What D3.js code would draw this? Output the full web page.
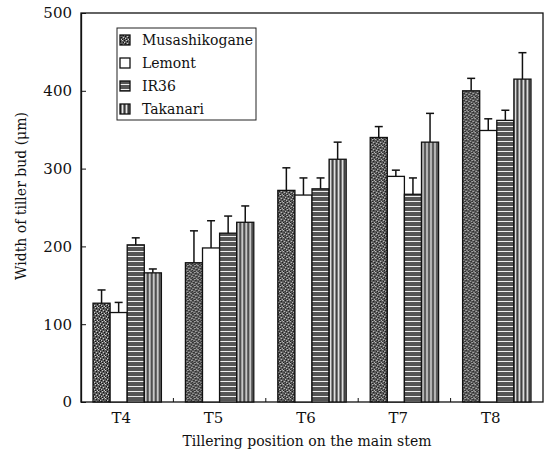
<!DOCTYPE html>
<meta charset="utf-8">
<style>
body { margin: 0; background: #fff; overflow: hidden; }
svg { display: block; }
text { font-family: "DejaVu Serif", serif; fill: #111; }
g.axis path, g.axis line { stroke: #111; }
</style>
<body>
<div id="chart"></div>
<script src="https://cdn.jsdelivr.net/npm/d3@7"></script>
<script>
// tillering positions and cultivars
var positions = ["T4", "T5", "T6", "T7", "T8"];
var cultivars = ["Musashikogane", "Lemont", "IR36", "Takanari"];

// mean width of tiller bud (um)
var musashikogane = [127, 179, 272, 340, 400];
var lemont        = [115, 198, 266, 290, 349];
var ir36          = [202, 217, 274, 267, 362];
var takanari      = [166, 231, 312, 334, 415];

// upper error bars (SD)
var musashikoganeErr = [17, 41, 29, 14, 16];
var lemontErr        = [13, 35, 22, 8, 15];
var ir36Err          = [9, 22, 14, 21, 13];
var takanariErr      = [5, 21, 22, 37, 34];

var yTicks = [0, 100, 200, 300, 400, 500];

var means = [musashikogane, lemont, ir36, takanari];
var errs = [musashikoganeErr, lemontErr, ir36Err, takanariErr];

var data = [];
positions.forEach(function (p, i) {
  cultivars.forEach(function (c, j) {
    data.push({pos: p, cv: c, k: j, v: means[j][i], e: errs[j][i]});
  });
});

var margin = {top: 13, right: 5, bottom: 57, left: 81};
var outerWidth = 548, outerHeight = 459;
var innerWidth = outerWidth - margin.left - margin.right;
var innerHeight = outerHeight - margin.top - margin.bottom;

var svg = d3.select("#chart").append("svg")
    .attr("width", outerWidth)
    .attr("height", outerHeight);

// fill patterns imitating the printed textures
var defs = svg.append("defs");

var stip = defs.append("pattern").attr("id", "p0")
    .attr("patternUnits", "userSpaceOnUse").attr("width", 7).attr("height", 7);
stip.append("rect").attr("width", 7).attr("height", 7).attr("fill", "#5e5e5e");
var darkDots = [[0,0],[3,1],[6,2],[1,3],[4,4],[2,6],[5,6],[0,5]];
var lightDots = [[2,0],[5,0],[0,2],[3,3],[6,4],[1,5],[4,6]];
darkDots.forEach(function (d) {
  stip.append("rect").attr("x", d[0]).attr("y", d[1]).attr("width", 1).attr("height", 1).attr("fill", "#111");
});
lightDots.forEach(function (d) {
  stip.append("rect").attr("x", d[0]).attr("y", d[1]).attr("width", 1).attr("height", 1).attr("fill", "#cfcfcf");
});

var hor = defs.append("pattern").attr("id", "p2")
    .attr("patternUnits", "userSpaceOnUse").attr("width", 6).attr("height", 5);
hor.append("rect").attr("width", 6).attr("height", 5).attr("fill", "#555");
hor.append("rect").attr("y", 3).attr("width", 6).attr("height", 1).attr("fill", "#eee");

var ver = defs.append("pattern").attr("id", "p3")
    .attr("patternUnits", "userSpaceOnUse").attr("width", 4).attr("height", 6);
ver.append("rect").attr("width", 4).attr("height", 6).attr("fill", "#808080");
ver.append("rect").attr("x", 1).attr("width", 1).attr("height", 6).attr("fill", "#e8e8e8");
ver.append("rect").attr("x", 3).attr("width", 1).attr("height", 6).attr("fill", "#3a3a3a");

var fills = ["url(#p0)", "#fff", "url(#p2)", "url(#p3)"];

// scales
var x0 = d3.scaleBand().domain(positions).range([0, innerWidth])
    .paddingInner(0.26).paddingOuter(0.13);
var x1 = d3.scaleBand().domain(cultivars).range([0, x0.bandwidth()]);
var y = d3.scaleLinear().domain([0, 500]).range([innerHeight, 0]);
var step = x0.step();

var g = svg.append("g")
    .attr("transform", "translate(" + margin.left + "," + margin.top + ")");

// frame
g.append("rect").attr("width", innerWidth).attr("height", innerHeight)
    .attr("fill", "none").attr("stroke", "#111").attr("stroke-width", 1.3);

// y axis, ticks pointing inward
var yAxis = g.append("g").attr("class", "axis")
    .call(d3.axisLeft(y).tickValues(yTicks).tickSizeInner(-5).tickSizeOuter(0).tickPadding(9));
yAxis.select(".domain").attr("stroke-width", 1.3);
yAxis.selectAll("text").attr("font-size", 15).attr("font-family", "DejaVu Serif");

// x axis: labels at categories, small inward ticks at group boundaries
var xAxis = g.append("g").attr("class", "axis")
    .attr("transform", "translate(0," + innerHeight + ")")
    .call(d3.axisBottom(x0).tickSize(0).tickPadding(10));
xAxis.select(".domain").remove();
xAxis.selectAll("text").attr("font-size", 15).attr("font-family", "DejaVu Serif")
    .attr("dx", -6);

g.append("g").selectAll("line")
    .data(positions.slice(1))
    .enter().append("line")
    .attr("x1", function (d) { return x0(d) - x0.paddingInner() * step / 2; })
    .attr("x2", function (d) { return x0(d) - x0.paddingInner() * step / 2; })
    .attr("y1", innerHeight).attr("y2", innerHeight - 4)
    .attr("stroke", "#111").attr("stroke-width", 1);

// bars
var bars = g.append("g").selectAll("g")
    .data(data).enter().append("g")
    .attr("transform", function (d) { return "translate(" + (x0(d.pos) + x1(d.cv)) + ",0)"; });

var bw = x1.bandwidth();

// error bars (upper only)
bars.append("line")
    .attr("x1", bw / 2).attr("x2", bw / 2)
    .attr("y1", function (d) { return y(d.v); })
    .attr("y2", function (d) { return y(d.v + d.e); })
    .attr("stroke", "#111").attr("stroke-width", 1.5);
bars.append("line")
    .attr("x1", bw / 2 - 4).attr("x2", bw / 2 + 4)
    .attr("y1", function (d) { return y(d.v + d.e); })
    .attr("y2", function (d) { return y(d.v + d.e); })
    .attr("stroke", "#111").attr("stroke-width", 1.5);

bars.append("rect")
    .attr("x", 0).attr("width", bw)
    .attr("y", function (d) { return y(d.v); })
    .attr("height", function (d) { return innerHeight - y(d.v); })
    .attr("fill", function (d) { return fills[d.k]; })
    .attr("stroke", "#111").attr("stroke-width", 1.3);

// legend
var legend = g.append("g").attr("transform", "translate(36,15)");
legend.append("rect").attr("width", 139).attr("height", 92)
    .attr("fill", "#fff").attr("stroke", "#222").attr("stroke-width", 1);
var items = legend.selectAll("g.item").data(cultivars).enter().append("g")
    .attr("class", "item")
    .attr("transform", function (d, i) { return "translate(0," + (12 + i * 23) + ")"; });
items.append("rect").attr("x", 3).attr("y", -5).attr("width", 10).attr("height", 10)
    .attr("fill", function (d, i) { return fills[i]; })
    .attr("stroke", "#111").attr("stroke-width", 1.3);
items.append("text").attr("x", 25).attr("y", 5)
    .attr("font-size", 14)
    .text(function (d) { return d; });

// axis titles
svg.append("text")
    .attr("x", margin.left + innerWidth / 2 - 5)
    .attr("y", 446)
    .attr("text-anchor", "middle")
    .attr("font-size", 14)
    .text("Tillering position on the main stem");

svg.append("text")
    .attr("transform", "translate(26,196) rotate(-90)")
    .attr("text-anchor", "middle")
    .attr("font-size", 14)
    .text("Width of tiller bud (\u03bcm)");
</script>
